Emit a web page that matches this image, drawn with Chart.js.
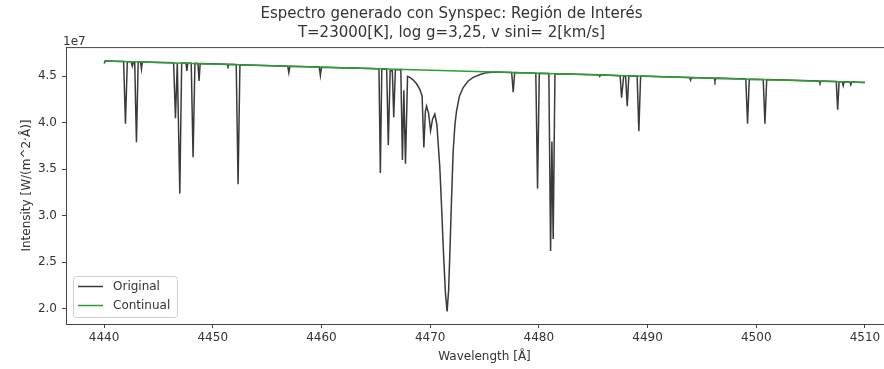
<!DOCTYPE html>
<html>
<head>
<meta charset="utf-8">
<script src="https://cdn.jsdelivr.net/npm/chart.js@4.4.1/dist/chart.umd.min.js"></script>
<style>
    html, body { margin: 0; padding: 0; overflow: hidden; background: #fff; }
    #wrap { width: 969px; height: 369px; }
</style>
</head>
<body>
<div id="wrap"><canvas id="spectrumChart" width="969" height="369"></canvas></div>
<script>
// synthetic spectrum (intensity in units of 1e7 W/(m^2·Å))
const wavelength = [
    4440.00, 4440.12, 4441.80, 4441.97, 4442.14, 4442.50, 4442.60, 4442.72, 4442.82, 4442.98,
    4443.14, 4443.36, 4443.44, 4443.52, 4446.40, 4446.57, 4446.74, 4446.80, 4446.97, 4447.14,
    4447.54, 4447.62, 4447.70, 4448.02, 4448.19, 4448.36, 4448.64, 4448.74, 4448.84, 4451.32,
    4451.40, 4451.48, 4452.16, 4452.33, 4452.50, 4456.90, 4457.00, 4457.10, 4459.80, 4459.90,
    4460.00, 4465.29, 4465.42, 4465.55, 4466.00, 4466.15, 4466.32, 4466.52, 4466.65, 4466.80,
    4467.30, 4467.45, 4467.58, 4467.73, 4467.92, 4468.13, 4468.45, 4468.75, 4469.05, 4469.26,
    4469.42, 4469.56, 4469.67, 4469.86, 4470.04, 4470.22, 4470.43, 4470.62, 4470.89, 4471.05,
    4471.22, 4471.40, 4471.56, 4471.70, 4471.82, 4471.96, 4472.12, 4472.28, 4472.43, 4472.70,
    4473.04, 4473.50, 4473.96, 4474.60, 4475.20, 4476.00, 4477.50, 4477.64, 4477.78, 4479.72,
    4479.88, 4480.04, 4480.92, 4481.08, 4481.20, 4481.32, 4481.48, 4485.50, 4485.60, 4485.70,
    4487.48, 4487.61, 4487.80, 4487.98, 4488.13, 4488.28, 4489.04, 4489.20, 4489.36, 4493.88,
    4493.96, 4494.04, 4496.12, 4496.20, 4496.28, 4499.04, 4499.20, 4499.36, 4500.64, 4500.80,
    4500.96, 4505.78, 4505.86, 4505.94, 4507.36, 4507.49, 4507.62, 4507.92, 4508.00, 4508.08,
    4508.62, 4508.70, 4508.78, 4510.00
];
const intensity = [
    4.640, 4.665, 4.659, 3.990, 4.658, 4.657, 4.610, 4.656, 4.656, 3.790,
    4.655, 4.654, 4.580, 4.654, 4.646, 4.050, 4.645, 4.645, 3.240, 4.644,
    4.643, 4.560, 4.642, 4.641, 3.630, 4.640, 4.639, 4.450, 4.639, 4.630,
    4.610, 4.630, 4.627, 3.340, 4.626, 4.610, 4.540, 4.609, 4.600, 4.510,
    4.599, 4.582, 3.460, 4.581, 4.580, 3.760, 4.560, 4.560, 4.060, 4.570,
    4.574, 3.600, 4.350, 3.560, 4.500, 4.490, 4.460, 4.420, 4.360, 4.290,
    3.735, 4.120, 4.180, 4.100, 3.915, 4.040, 4.095, 3.980, 3.520, 3.100,
    2.620, 2.180, 1.970, 2.200, 2.620, 3.150, 3.700, 3.980, 4.130, 4.290,
    4.380, 4.450, 4.490, 4.520, 4.540, 4.547, 4.542, 4.330, 4.541, 4.535,
    3.290, 4.534, 4.531, 2.620, 3.800, 2.750, 4.529, 4.517, 4.500, 4.517,
    4.508, 4.270, 4.500, 4.505, 4.180, 4.506, 4.504, 3.910, 4.503, 4.488,
    4.460, 4.488, 4.481, 4.450, 4.481, 4.471, 3.990, 4.470, 4.466, 3.990,
    4.465, 4.449, 4.430, 4.449, 4.444, 4.140, 4.443, 4.442, 4.400, 4.442,
    4.440, 4.410, 4.440, 4.435
];

// continuum level
const contWavelength = [4440, 4510];
const contIntensity = [4.665, 4.435];

const xTicks = [4440, 4450, 4460, 4470, 4480, 4490, 4500, 4510];
const yTicks = [2.0, 2.5, 3.0, 3.5, 4.0, 4.5];

const titleLines = ['Espectro generado con Synspec: Región de Interés', 'T=23000[K], log g=3,25, v sini= 2[km/s]'];
const seriesNames = ['Original', 'Continual'];

const fontFamily = "'DejaVu Sans', sans-serif";
const textColor = '#333';
const axisColor = '#444';

// top frame, offset text and legend drawn like matplotlib
const framePlugin = {
    id: 'framePlugin',
    afterDraw(chart) {
        const ctx = chart.ctx;
        const area = chart.chartArea;
        ctx.save();
        ctx.strokeStyle = axisColor;
        ctx.lineWidth = 1;
        ctx.beginPath();
        ctx.moveTo(area.left, area.top + 0.5);
        ctx.lineTo(area.right, area.top + 0.5);
        ctx.lineTo(area.right, area.bottom);
        ctx.stroke();

        ctx.fillStyle = textColor;
        ctx.font = '12px ' + fontFamily;
        ctx.textAlign = 'left';
        ctx.textBaseline = 'alphabetic';
        ctx.fillText('1e7', area.left - 3, area.top - 2);

        // legend box
        const bx = area.left + 7, bw = 104, bh = 41;
        const by = area.bottom - 7 - bh;
        ctx.beginPath();
        ctx.roundRect(bx + 0.5, by + 0.5, bw, bh, 3);
        ctx.fillStyle = 'rgba(255,255,255,0.8)';
        ctx.fill();
        ctx.strokeStyle = '#d0d0d0';
        ctx.stroke();

        const order = [0, 1];
        order.forEach((idx, row) => {
            const ds = chart.data.datasets[idx];
            const y = by + 10.5 + row * 19;
            ctx.beginPath();
            ctx.moveTo(bx + 5, y);
            ctx.lineTo(bx + 30, y);
            ctx.strokeStyle = ds.borderColor;
            ctx.lineWidth = 1.5;
            ctx.stroke();
            ctx.fillStyle = textColor;
            ctx.textBaseline = 'middle';
            ctx.fillText(ds.label, bx + 40, y);
        });
        ctx.restore();
    }
};

const ctx1 = document.getElementById('spectrumChart').getContext('2d');
const spectrumChart = new Chart(ctx1, {
    type: 'line',
    data: {
        datasets: [{
            label: seriesNames[0],
            data: wavelength.map((w, i) => ({ x: w, y: intensity[i] })),
            borderColor: '#3a3a3a',
            borderWidth: 1.5,
            pointRadius: 0,
            tension: 0,
            order: 2
        }, {
            label: seriesNames[1],
            data: contWavelength.map((w, i) => ({ x: w, y: contIntensity[i] })),
            borderColor: '#2ca02c',
            borderWidth: 1.5,
            pointRadius: 0,
            tension: 0,
            order: 1
        }]
    },
    options: {
        responsive: false,
        animation: false,
        devicePixelRatio: 1,
        layout: { padding: { left: 0, right: 66, top: 0, bottom: 0 } },
        plugins: {
            legend: { display: false },
            tooltip: { enabled: false },
            title: {
                display: true,
                text: titleLines,
                color: textColor,
                font: { family: fontFamily, size: 15, weight: 'normal', lineHeight: 1.27 },
                padding: { top: 4.5, bottom: 4.5 }
            }
        },
        scales: {
            x: {
                type: 'linear',
                min: 4436.5,
                max: 4513.5,
                afterBuildTicks: scale => { scale.ticks = xTicks.map(v => ({ value: v })); },
                afterFit: scale => { scale.height = 45; },
                ticks: {
                    color: textColor,
                    font: { family: fontFamily, size: 12 },
                    padding: 3,
                    maxRotation: 0,
                    autoSkip: false,
                    callback: v => v.toString()
                },
                grid: { drawOnChartArea: false, drawTicks: true, tickLength: 4, tickColor: axisColor },
                border: { display: true, color: axisColor, width: 1 },
                title: {
                    display: true,
                    text: 'Wavelength [Å]',
                    color: textColor,
                    font: { family: fontFamily, size: 12 },
                    padding: { top: 0, bottom: 5 }
                }
            },
            y: {
                min: 1.835,
                max: 4.815,
                afterBuildTicks: scale => { scale.ticks = yTicks.map(v => ({ value: v })); },
                afterFit: scale => { scale.width = 66; },
                ticks: {
                    color: textColor,
                    font: { family: fontFamily, size: 12 },
                    padding: 5,
                    autoSkip: false,
                    callback: v => v.toFixed(1)
                },
                grid: { drawOnChartArea: false, drawTicks: true, tickLength: 4, tickColor: axisColor },
                border: { display: true, color: axisColor, width: 1 },
                title: {
                    display: true,
                    text: 'Intensity [W/(m^2·Å)]',
                    color: textColor,
                    font: { family: fontFamily, size: 12 },
                    padding: { top: 19.5, bottom: 0 }
                }
            }
        }
    },
    plugins: [framePlugin]
});
</script>
</body>
</html>
